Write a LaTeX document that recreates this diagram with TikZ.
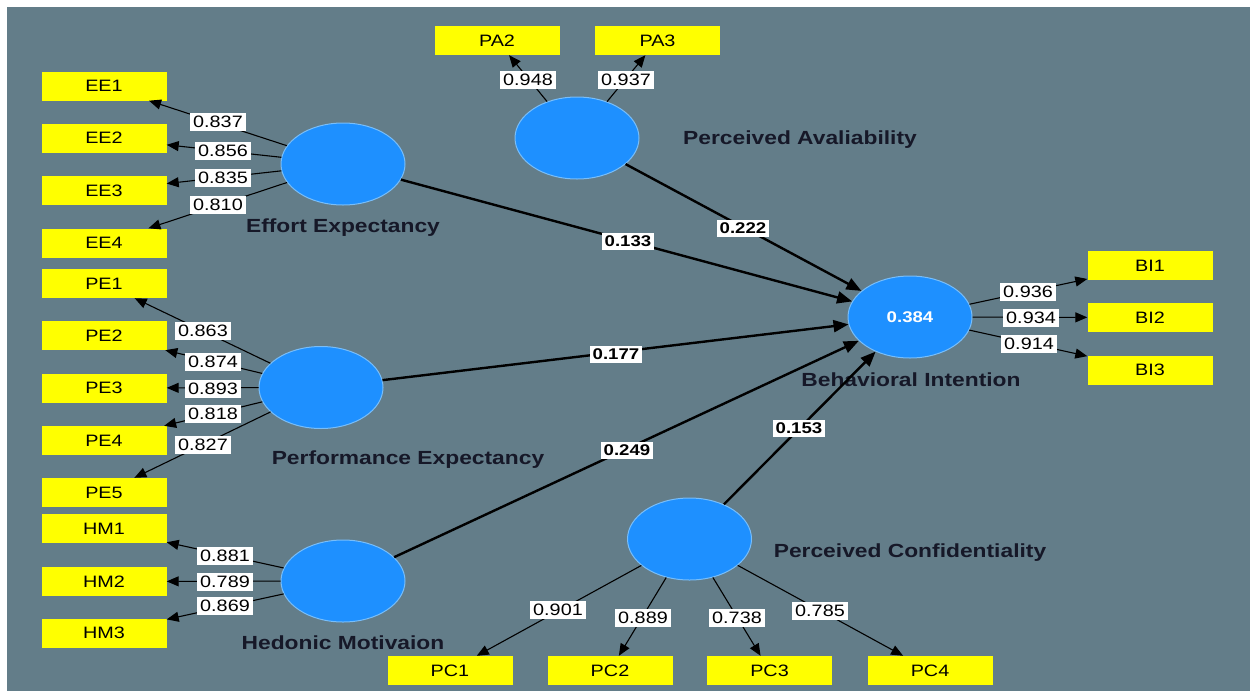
\documentclass[tikz,border=0pt]{standalone}
\usepackage{fontspec}
\setmainfont[FakeStretch=1.2]{Liberation Sans}
\usetikzlibrary{arrows.meta,shapes.geometric}
\definecolor{bg}{RGB}{99,125,137}
\definecolor{ind}{RGB}{255,255,0}
\definecolor{lv}{RGB}{30,144,255}
\definecolor{lvb}{RGB}{120,190,250}
\definecolor{lvtxt}{RGB}{22,24,40}
\begin{document}
\begin{tikzpicture}[x=1pt,y=-1pt,
 indbox/.style={fill=ind, minimum width=125pt, minimum height=29pt, inner sep=0pt, font=\fontsize{16.5}{19}\selectfont},
 lvnode/.style={ellipse, fill=lv, draw=lvb, line width=1pt, minimum width=124pt, minimum height=82pt, inner sep=0pt},
 lvlabel/.style={font=\bfseries\fontsize{19}{22}\selectfont, text=lvtxt},
 load/.style={fill=white, inner xsep=3.5pt, inner ysep=1pt, minimum height=18pt, font=\fontsize{16.5}{19}\selectfont},
 pcoef/.style={fill=white, inner xsep=3pt, inner ysep=1pt, minimum height=17pt, font=\bfseries\fontsize{15.5}{18}\selectfont},
 ldarrow/.style={draw=black, line width=1.1pt, -{Triangle[length=12pt,width=10pt]}},
 patharrow/.style={draw=black, line width=2.4pt, -{Triangle[length=15pt,width=12pt]}},
]
\useasboundingbox (0,0) rectangle (1250,691);
\fill[white] (0,0) rectangle (1250,691);
\fill[bg] (7,7) rectangle (1250,691);

% indicators
\node[indbox] (EE1) at (104,86) {EE1};
\node[indbox] (EE2) at (104,138) {EE2};
\node[indbox] (EE3) at (104,190.5) {EE3};
\node[indbox] (EE4) at (104,243) {EE4};
\node[indbox] (PE1) at (104,283.5) {PE1};
\node[indbox] (PE2) at (104,335.5) {PE2};
\node[indbox] (PE3) at (104,388) {PE3};
\node[indbox] (PE4) at (104,440.5) {PE4};
\node[indbox] (PE5) at (104,492.5) {PE5};
\node[indbox] (HM1) at (104,528.5) {HM1};
\node[indbox] (HM2) at (104,581.5) {HM2};
\node[indbox] (HM3) at (104,633) {HM3};
\node[indbox] (PA2) at (497,40.5) {PA2};
\node[indbox] (PA3) at (657.5,40.5) {PA3};
\node[indbox] (BI1) at (1150,265.5) {BI1};
\node[indbox] (BI2) at (1150,317.5) {BI2};
\node[indbox] (BI3) at (1150,370) {BI3};
\node[indbox] (PC1) at (450,670.5) {PC1};
\node[indbox] (PC2) at (610,670.5) {PC2};
\node[indbox] (PC3) at (769.5,670.5) {PC3};
\node[indbox] (PC4) at (930,670.5) {PC4};

% constructs
\node[lvnode] (EE) at (343,164) {};
\node[lvnode] (PE) at (321,387.5) {};
\node[lvnode] (HM) at (343,581) {};
\node[lvnode] (PA) at (577,138) {};
\node[lvnode] (BI) at (910,317) {};
\node[lvnode] (PC) at (689.5,539) {};
\node[font=\bfseries\fontsize{15.5}{18}\selectfont, text=white] (BIr2) at (BI.center) {0.384};

% construct labels
\node[lvlabel] (EEl) at (343,228) {Effort Expectancy};
\node[lvlabel] (PEl) at (408,460) {Performance Expectancy};
\node[lvlabel] (HMl) at (343,643) {Hedonic Motivaion};
\node[lvlabel] (PAl) at (800,140) {Perceived Avaliability};
\node[lvlabel] (PCl) at (910,553) {Perceived Confidentiality};
\node[lvlabel] (BIl) at (911,380) {Behavioral Intention};

% loadings
\foreach \a/\b in {EE/EE1,EE/EE2,EE/EE3,EE/EE4,PE/PE1,PE/PE2,PE/PE3,PE/PE4,PE/PE5,HM/HM1,HM/HM2,HM/HM3,PA/PA2,PA/PA3,BI/BI1,BI/BI2,BI/BI3,PC/PC1,PC/PC2,PC/PC3,PC/PC4}
  \draw[ldarrow] (\a) -- (\b);

% paths
\foreach \a in {EE,PE,HM,PA,PC}
  \draw[patharrow] (\a) -- (BI);

% loading labels
\node[load] (lEE1) at (218,122) {0.837};
\node[load] (lEE2) at (223,151) {0.856};
\node[load] (lEE3) at (223,178) {0.835};
\node[load] (lEE4) at (218,205) {0.810};
\node[load] (lPE1) at (203,331) {0.863};
\node[load] (lPE2) at (213,362) {0.874};
\node[load] (lPE3) at (213,389) {0.893};
\node[load] (lPE4) at (213,414) {0.818};
\node[load] (lPE5) at (203,445) {0.827};
\node[load] (lHM1) at (225,556) {0.881};
\node[load] (lHM2) at (225,582) {0.789};
\node[load] (lHM3) at (225,606) {0.869};
\node[load] (lPA2) at (528,80) {0.948};
\node[load] (lPA3) at (626,80) {0.937};
\node[load] (lBI1) at (1028,292) {0.936};
\node[load] (lBI2) at (1031,318) {0.934};
\node[load] (lBI3) at (1029,344) {0.914};
\node[load] (lPC1) at (558,610) {0.901};
\node[load] (lPC2) at (643,618) {0.889};
\node[load] (lPC3) at (737,618) {0.738};
\node[load] (lPC4) at (820,611) {0.785};

% path coefficients
\node[pcoef] (cEE) at (628,241) {0.133};
\node[pcoef] (cPA) at (743,228) {0.222};
\node[pcoef] (cPE) at (616,354) {0.177};
\node[pcoef] (cHM) at (627,450) {0.249};
\node[pcoef] (cPC) at (799,428) {0.153};
\end{tikzpicture}
\end{document}
